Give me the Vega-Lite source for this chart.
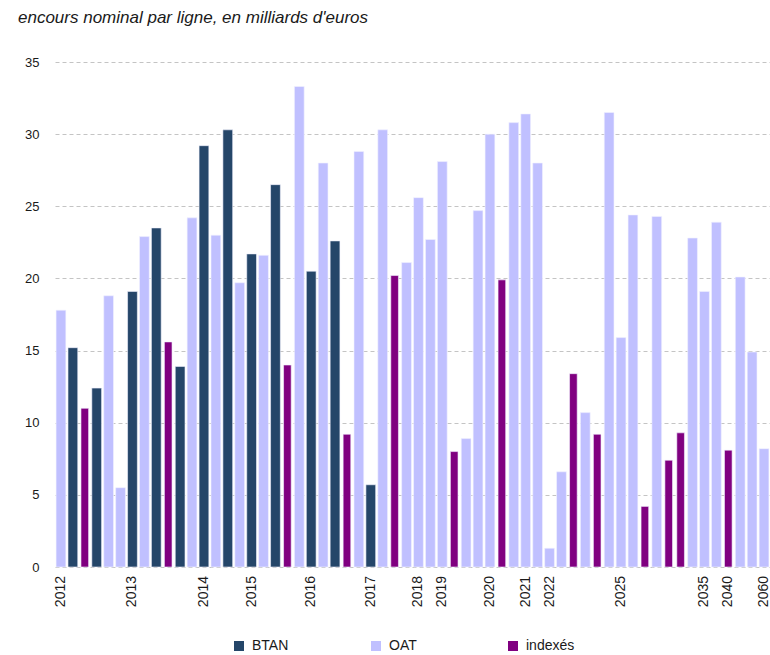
{
  "$schema": "https://vega.github.io/schema/vega-lite/v6.json",
  "width": 715,
  "height": 505,
  "autosize": "none",
  "padding": {"left": 55, "top": 62, "right": 0, "bottom": 88},
  "background": "white",
  "title": {
    "text": "encours nominal par ligne, en milliards d'euros",
    "anchor": "start",
    "frame": "group",
    "dx": -37,
    "offset": 29,
    "font": "Liberation Sans",
    "fontSize": 17,
    "fontStyle": "italic",
    "fontWeight": "normal",
    "color": "#1a1a1a"
  },
  "config": {
    "view": {"stroke": null},
    "font": "Liberation Sans"
  },
  "data": {
    "values": [
      {"bar": 1, "type": "OAT", "value": 17.8, "year": "2012"},
      {"bar": 2, "type": "BTAN", "value": 15.2, "year": ""},
      {"bar": 3, "type": "indexés", "value": 11.0, "year": ""},
      {"bar": 4, "type": "BTAN", "value": 12.4, "year": ""},
      {"bar": 5, "type": "OAT", "value": 18.8, "year": ""},
      {"bar": 6, "type": "OAT", "value": 5.5, "year": ""},
      {"bar": 7, "type": "BTAN", "value": 19.1, "year": "2013"},
      {"bar": 8, "type": "OAT", "value": 22.9, "year": ""},
      {"bar": 9, "type": "BTAN", "value": 23.5, "year": ""},
      {"bar": 10, "type": "indexés", "value": 15.6, "year": ""},
      {"bar": 11, "type": "BTAN", "value": 13.9, "year": ""},
      {"bar": 12, "type": "OAT", "value": 24.2, "year": ""},
      {"bar": 13, "type": "BTAN", "value": 29.2, "year": "2014"},
      {"bar": 14, "type": "OAT", "value": 23.0, "year": ""},
      {"bar": 15, "type": "BTAN", "value": 30.3, "year": ""},
      {"bar": 16, "type": "OAT", "value": 19.7, "year": ""},
      {"bar": 17, "type": "BTAN", "value": 21.7, "year": "2015"},
      {"bar": 18, "type": "OAT", "value": 21.6, "year": ""},
      {"bar": 19, "type": "BTAN", "value": 26.5, "year": ""},
      {"bar": 20, "type": "indexés", "value": 14.0, "year": ""},
      {"bar": 21, "type": "OAT", "value": 33.3, "year": ""},
      {"bar": 22, "type": "BTAN", "value": 20.5, "year": "2016"},
      {"bar": 23, "type": "OAT", "value": 28.0, "year": ""},
      {"bar": 24, "type": "BTAN", "value": 22.6, "year": ""},
      {"bar": 25, "type": "indexés", "value": 9.2, "year": ""},
      {"bar": 26, "type": "OAT", "value": 28.8, "year": ""},
      {"bar": 27, "type": "BTAN", "value": 5.7, "year": "2017"},
      {"bar": 28, "type": "OAT", "value": 30.3, "year": ""},
      {"bar": 29, "type": "indexés", "value": 20.2, "year": ""},
      {"bar": 30, "type": "OAT", "value": 21.1, "year": ""},
      {"bar": 31, "type": "OAT", "value": 25.6, "year": "2018"},
      {"bar": 32, "type": "OAT", "value": 22.7, "year": ""},
      {"bar": 33, "type": "OAT", "value": 28.1, "year": "2019"},
      {"bar": 34, "type": "indexés", "value": 8.0, "year": ""},
      {"bar": 35, "type": "OAT", "value": 8.9, "year": ""},
      {"bar": 36, "type": "OAT", "value": 24.7, "year": ""},
      {"bar": 37, "type": "OAT", "value": 30.0, "year": "2020"},
      {"bar": 38, "type": "indexés", "value": 19.9, "year": ""},
      {"bar": 39, "type": "OAT", "value": 30.8, "year": ""},
      {"bar": 40, "type": "OAT", "value": 31.4, "year": "2021"},
      {"bar": 41, "type": "OAT", "value": 28.0, "year": ""},
      {"bar": 42, "type": "OAT", "value": 1.3, "year": "2022"},
      {"bar": 43, "type": "OAT", "value": 6.6, "year": ""},
      {"bar": 44, "type": "indexés", "value": 13.4, "year": ""},
      {"bar": 45, "type": "OAT", "value": 10.7, "year": ""},
      {"bar": 46, "type": "indexés", "value": 9.2, "year": ""},
      {"bar": 47, "type": "OAT", "value": 31.5, "year": ""},
      {"bar": 48, "type": "OAT", "value": 15.9, "year": "2025"},
      {"bar": 49, "type": "OAT", "value": 24.4, "year": ""},
      {"bar": 50, "type": "indexés", "value": 4.2, "year": ""},
      {"bar": 51, "type": "OAT", "value": 24.3, "year": ""},
      {"bar": 52, "type": "indexés", "value": 7.4, "year": ""},
      {"bar": 53, "type": "indexés", "value": 9.3, "year": ""},
      {"bar": 54, "type": "OAT", "value": 22.8, "year": ""},
      {"bar": 55, "type": "OAT", "value": 19.1, "year": "2035"},
      {"bar": 56, "type": "OAT", "value": 23.9, "year": ""},
      {"bar": 57, "type": "indexés", "value": 8.1, "year": "2040"},
      {"bar": 58, "type": "OAT", "value": 20.1, "year": ""},
      {"bar": 59, "type": "OAT", "value": 14.9, "year": ""},
      {"bar": 60, "type": "OAT", "value": 8.2, "year": "2060"}
    ]
  },
  "encoding": {
    "x": {
      "field": "bar",
      "type": "ordinal",
      "scale": {"paddingInner": 0, "paddingOuter": 0},
      "axis": null
    }
  },
  "layer": [
    {
      "transform": [{"filter": "datum.type != 'indexés'"}],
      "mark": {"type": "bar", "width": {"band": 0.82}, "stroke": "#f2f2ff", "strokeWidth": 0.6},
      "encoding": {
        "y": {
          "field": "value",
          "type": "quantitative",
          "scale": {"domain": [0, 35], "nice": false},
          "axis": {
            "title": null,
            "values": [0, 5, 10, 15, 20, 25, 30, 35],
            "domain": false,
            "ticks": false,
            "labelPadding": 16,
            "labelFont": "Liberation Sans",
            "labelFontSize": 13,
            "labelColor": "#1a1a1a",
            "gridColor": "#c4c4c4",
            "gridDash": [4, 3],
            "gridWidth": 1
          }
        },
        "color": {
          "field": "type",
          "type": "nominal",
          "scale": {"domain": ["BTAN", "OAT", "indexés"], "range": ["#254669", "#c0c0ff", "#800080"]},
          "legend": {
            "title": null,
            "orient": "none",
            "legendX": 177,
            "legendY": 577,
            "direction": "horizontal",
            "columns": 3,
            "gridAlign": "all",
            "columnPadding": 68,
            "symbolType": "square",
            "symbolSize": 100,
            "symbolStrokeWidth": 0,
            "labelFont": "Liberation Sans",
            "labelFontSize": 14,
            "labelColor": "#1a1a1a",
            "labelOffset": 6
          }
        }
      }
    },
    {
      "transform": [{"filter": "datum.type == 'indexés'"}],
      "mark": {"type": "bar", "width": {"band": 0.64}, "stroke": "#f2f2ff", "strokeWidth": 0.6},
      "encoding": {
        "y": {"field": "value", "type": "quantitative"},
        "color": {"field": "type", "type": "nominal"}
      }
    },
    {
      "transform": [{"filter": "datum.year != ''"}],
      "mark": {
        "type": "text",
        "angle": 270,
        "align": "right",
        "baseline": "middle",
        "dx": -9,
        "font": "Liberation Sans",
        "fontSize": 14,
        "color": "#1a1a1a"
      },
      "encoding": {
        "y": {"datum": 0},
        "text": {"field": "year"}
      }
    }
  ]
}
